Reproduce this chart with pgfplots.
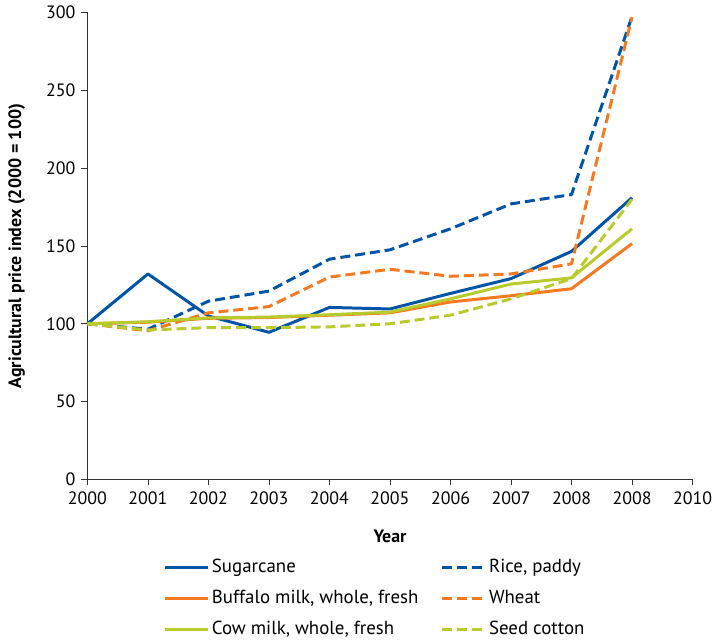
\documentclass[border=0pt]{standalone}
\usepackage{fontspec}
\setmainfont{PT Sans}
\usepackage{pgfplots}
\pgfplotsset{compat=1.18}

\definecolor{cblue}{RGB}{0,84,166}
\definecolor{corange}{RGB}{244,121,32}
\definecolor{cgreen}{RGB}{185,202,44}

\begin{document}
\fontsize{18}{22}\selectfont
\begin{tikzpicture}
\begin{axis}[
  scale only axis,
  width=609pt, height=470pt,
  axis lines=left,
  axis line style={-, black!80, line width=0.8pt},
  xmin=0, xmax=10, ymin=0, ymax=300,
  xtick={0,...,10},
  xticklabels={2000,2001,2002,2003,2004,2005,2006,2007,2008,2008,2010},
  ytick={0,50,...,300},
  tick align=outside,
  tick style={black!80, line width=0.8pt},
  major tick length=6pt,
  /pgf/number format/assume math mode=true,
  ticklabel style={font=\fontsize{18}{22}\selectfont},
  xlabel={\textbf{Year}},
  ylabel={\textbf{Agricultural price index (2000 = 100)}},
  label style={font=\fontsize{18}{22}\selectfont},
  xlabel style={yshift=-13pt},
  ylabel style={yshift=9pt},
  clip=false,
  legend columns=2,
  legend style={at={(0.475,-0.162)}, anchor=north, draw=none,
    font=\fontsize{19}{23}\selectfont,
    /tikz/every even column/.append style={column sep=20pt},
    row sep=11pt},
  legend cell align=left,
  legend image code/.code={\draw[#1] (0pt,0pt) -- (44pt,0pt);},
  every axis plot/.append style={line width=3pt, line join=round},
]
\addplot[cblue, solid] coordinates {(0,100) (1,132) (2,105) (3,94.5) (4,110.5) (5,109.5) (6,119.5) (7,129) (8,146.5) (9,181)};
\addlegendentry{Sugarcane}
\addplot[cblue, dash pattern=on 10pt off 5pt] coordinates {(0,100) (1,96.5) (2,114.5) (3,121) (4,141.5) (5,147.5) (6,161) (7,177) (8,183) (9,297.5)};
\addlegendentry{Rice, paddy}
\addplot[corange, solid] coordinates {(0,100) (1,101) (2,103.5) (3,104) (4,105.5) (5,107) (6,114) (7,118) (8,122.5) (9,151.5)};
\addlegendentry{Buffalo milk, whole, fresh}
\addplot[corange, dash pattern=on 10pt off 5pt] coordinates {(0,100) (1,95.5) (2,107) (3,111) (4,130) (5,135) (6,130.5) (7,132) (8,138.5) (9,297)};
\addlegendentry{Wheat}
\addplot[cgreen, solid] coordinates {(0,100) (1,101.3) (2,103.8) (3,104.3) (4,105.8) (5,107.5) (6,116) (7,125.5) (8,129.5) (9,161)};
\addlegendentry{Cow milk, whole, fresh}
\addplot[cgreen, dash pattern=on 10pt off 5pt] coordinates {(0,100) (1,96) (2,97.5) (3,97.5) (4,98) (5,100) (6,105.5) (7,116) (8,129) (9,180)};
\addlegendentry{Seed cotton}
\end{axis}
% blank margin at the left, as in the reference
\path (current axis.west) ++(-88pt,0pt);
\end{tikzpicture}
\end{document}
